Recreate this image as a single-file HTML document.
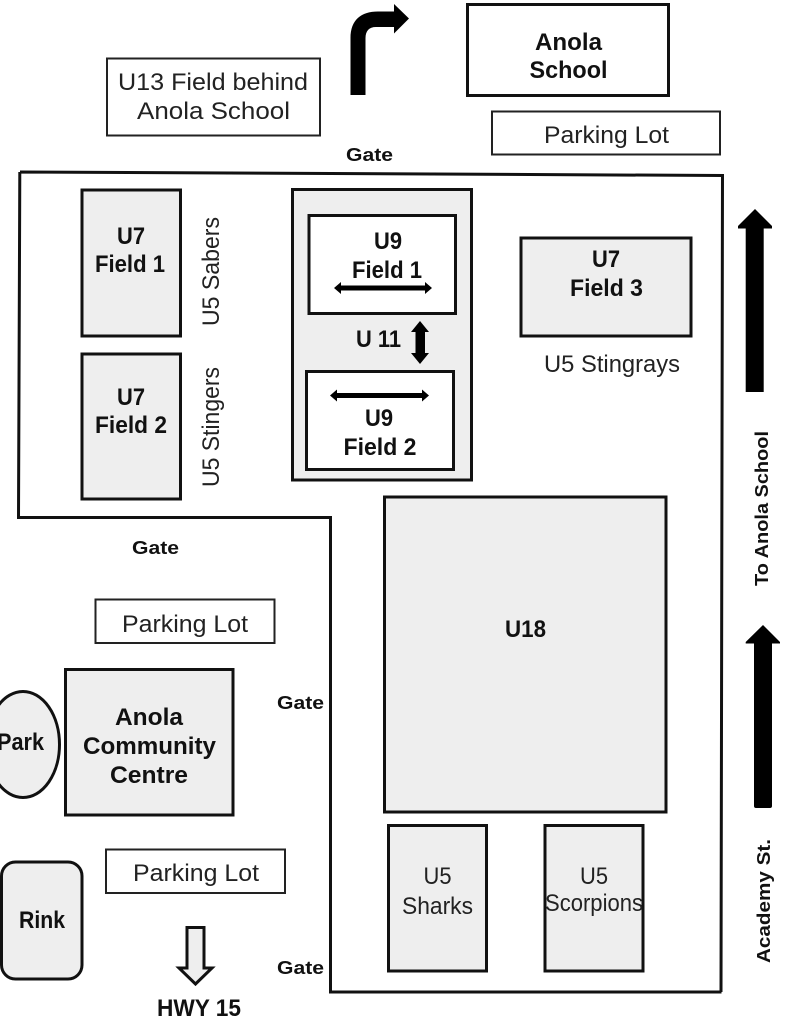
<!DOCTYPE html>
<html lang="en">
<head>
<meta charset="utf-8">
<title>Anola Fields Map</title>
<style>
html,body{margin:0;padding:0;background:#fff;width:795px;height:1036px;overflow:hidden}
svg{display:block}
text{font-family:"Liberation Sans",sans-serif}
.b{font-weight:700;font-size:24px;fill:#111}
.g{font-weight:700;font-size:18.5px;fill:#111}
.r{font-size:24px;fill:#222}
.f{fill:#eee;stroke:#111;stroke-width:3}
.w{fill:#fff;stroke:#111;stroke-width:3}
.t{fill:#fff;stroke:#222;stroke-width:2}
</style>
</head>
<body>
<svg width="795" height="1036" viewBox="0 0 795 1036" xmlns="http://www.w3.org/2000/svg">
<rect width="795" height="1036" fill="#fff"/>

<!-- Top -->
<rect class="t" x="107" y="58.5" width="213" height="77"/>
<text class="r" x="118" y="90" textLength="190" lengthAdjust="spacingAndGlyphs">U13 Field behind</text>
<text class="r" x="137" y="119" textLength="153" lengthAdjust="spacingAndGlyphs">Anola School</text>

<path d="M350.5 95V38C350.5 20 361 11.5 378 11.5H394V4L409 18.5L394 33.5V27H376C369 27 365.5 31 365.5 38V95Z" fill="#000"/>

<rect class="w" x="467.5" y="4.5" width="201" height="91"/>
<text class="b" x="568.5" y="50" text-anchor="middle" textLength="67" lengthAdjust="spacingAndGlyphs">Anola</text>
<text class="b" x="568.5" y="78" text-anchor="middle" textLength="78" lengthAdjust="spacingAndGlyphs">School</text>

<rect class="t" x="492" y="111.5" width="228" height="43"/>
<text class="r" x="544" y="143" textLength="125" lengthAdjust="spacingAndGlyphs">Parking Lot</text>

<text class="g" x="346" y="161" textLength="47" lengthAdjust="spacingAndGlyphs">Gate</text>

<!-- Boundary -->
<path d="M20 172L723 175.5M19.8 172L18.5 518M17 517.5H331M330.5 516V993M329 992H721.5M722.5 174L721 992" fill="none" stroke="#111" stroke-width="3"/>

<!-- U7 fields left -->
<rect class="f" x="82" y="190" width="98.500" height="146"/>
<text class="b" x="131" y="244" text-anchor="middle" textLength="28" lengthAdjust="spacingAndGlyphs">U7</text>
<text class="b" x="130" y="272" text-anchor="middle" textLength="70" lengthAdjust="spacingAndGlyphs">Field 1</text>

<rect class="f" x="82" y="354" width="98.500" height="145"/>
<text class="b" x="131" y="405" text-anchor="middle" textLength="28" lengthAdjust="spacingAndGlyphs">U7</text>
<text class="b" x="131" y="433" text-anchor="middle" textLength="72" lengthAdjust="spacingAndGlyphs">Field 2</text>

<text class="r" transform="translate(219 326) rotate(-90)" x="0" y="0" textLength="109" lengthAdjust="spacingAndGlyphs">U5 Sabers</text>
<text class="r" transform="translate(219 487) rotate(-90)" x="0" y="0" textLength="120" lengthAdjust="spacingAndGlyphs">U5 Stingers</text>

<!-- U11 / U9 -->
<rect class="f" x="292.500" y="189.500" width="179" height="290.500"/>
<rect class="w" x="309" y="215.500" width="146.500" height="98"/>
<text class="b" x="388" y="249" text-anchor="middle" textLength="28" lengthAdjust="spacingAndGlyphs">U9</text>
<text class="b" x="387" y="278" text-anchor="middle" textLength="70" lengthAdjust="spacingAndGlyphs">Field 1</text>
<path d="M334 288L341 282V285.500H425V282L432 288L425 294V290.500H341V294Z" fill="#000"/>

<text class="b" x="356" y="347" textLength="45" lengthAdjust="spacingAndGlyphs">U 11</text>
<path d="M420 321L429 332H425V353H429L420 364L411 353H415.500V332H411Z" fill="#000"/>

<rect class="w" x="306.500" y="371.500" width="147" height="98"/>
<path d="M330 395.500L337 389.500V393H422V389.500L429 395.500L422 401.500V398H337V401.500Z" fill="#000"/>
<text class="b" x="379" y="426" text-anchor="middle" textLength="28" lengthAdjust="spacingAndGlyphs">U9</text>
<text class="b" x="380" y="455" text-anchor="middle" textLength="73" lengthAdjust="spacingAndGlyphs">Field 2</text>

<!-- U7 Field 3 -->
<rect class="f" x="521" y="238" width="170" height="98"/>
<text class="b" x="606" y="267" text-anchor="middle" textLength="28" lengthAdjust="spacingAndGlyphs">U7</text>
<text class="b" x="606.500" y="296" text-anchor="middle" textLength="73" lengthAdjust="spacingAndGlyphs">Field 3</text>
<text class="r" x="544" y="372" textLength="136" lengthAdjust="spacingAndGlyphs">U5 Stingrays</text>

<!-- Right arrows -->
<path d="M755 209L772 226V228.500H763.700V392H745.700V228.500H738V226Z" fill="#000"/>
<text class="g" transform="translate(768 586) rotate(-90)" x="0" y="0" textLength="155" lengthAdjust="spacingAndGlyphs">To Anola School</text>
<path d="M763 625L780 642V643.500H772V806Q772 808 770 808H756Q754 808 754 806V643.500H745.700V642Z" fill="#000"/>
<text class="g" transform="translate(770 963) rotate(-90)" x="0" y="0" textLength="124" lengthAdjust="spacingAndGlyphs">Academy St.</text>

<!-- U18 -->
<rect class="f" x="384.500" y="497" width="281.500" height="315"/>
<text class="b" x="505" y="637" textLength="41" lengthAdjust="spacingAndGlyphs">U18</text>

<!-- U5 bottom -->
<rect class="f" x="388.500" y="825.500" width="98" height="145.500"/>
<text class="r" x="437.500" y="884" text-anchor="middle" textLength="28" lengthAdjust="spacingAndGlyphs">U5</text>
<text class="r" x="402" y="914" textLength="71" lengthAdjust="spacingAndGlyphs">Sharks</text>

<rect class="f" x="545" y="825.500" width="98" height="145.500"/>
<text class="r" x="594" y="884" text-anchor="middle" textLength="28" lengthAdjust="spacingAndGlyphs">U5</text>
<text class="r" x="545" y="911" textLength="98" lengthAdjust="spacingAndGlyphs">Scorpions</text>

<!-- Lower left -->
<text class="g" x="132" y="554" textLength="47" lengthAdjust="spacingAndGlyphs">Gate</text>
<rect class="t" x="95.500" y="599.500" width="179" height="43.500"/>
<text class="r" x="122" y="632" textLength="126" lengthAdjust="spacingAndGlyphs">Parking Lot</text>

<rect class="f" x="65.500" y="669.500" width="167.500" height="145.500"/>
<text class="b" x="149" y="725" text-anchor="middle" textLength="68" lengthAdjust="spacingAndGlyphs">Anola</text>
<text class="b" x="149.500" y="754" text-anchor="middle" textLength="133" lengthAdjust="spacingAndGlyphs">Community</text>
<text class="b" x="149" y="783" text-anchor="middle" textLength="78" lengthAdjust="spacingAndGlyphs">Centre</text>

<ellipse cx="23" cy="744.500" rx="36.500" ry="53" fill="#eee" stroke="#111" stroke-width="3"/>
<text class="b" x="-3" y="750" textLength="47" lengthAdjust="spacingAndGlyphs">Park</text>

<text class="g" x="277" y="709" textLength="47" lengthAdjust="spacingAndGlyphs">Gate</text>
<text class="g" x="277" y="974" textLength="47" lengthAdjust="spacingAndGlyphs">Gate</text>

<rect class="t" x="106" y="849.500" width="179" height="43.500"/>
<text class="r" x="133" y="881" textLength="126" lengthAdjust="spacingAndGlyphs">Parking Lot</text>

<rect class="f" x="1.500" y="862" width="80.500" height="117" rx="14" ry="14"/>
<text class="b" x="19" y="928" textLength="46" lengthAdjust="spacingAndGlyphs">Rink</text>

<path d="M187 927.500H204V968H212L195.500 984L179 968H187Z" fill="#eee" stroke="#111" stroke-width="3"/>
<text class="b" x="157" y="1016" textLength="84" lengthAdjust="spacingAndGlyphs">HWY 15</text>
</svg>
</body>
</html>
